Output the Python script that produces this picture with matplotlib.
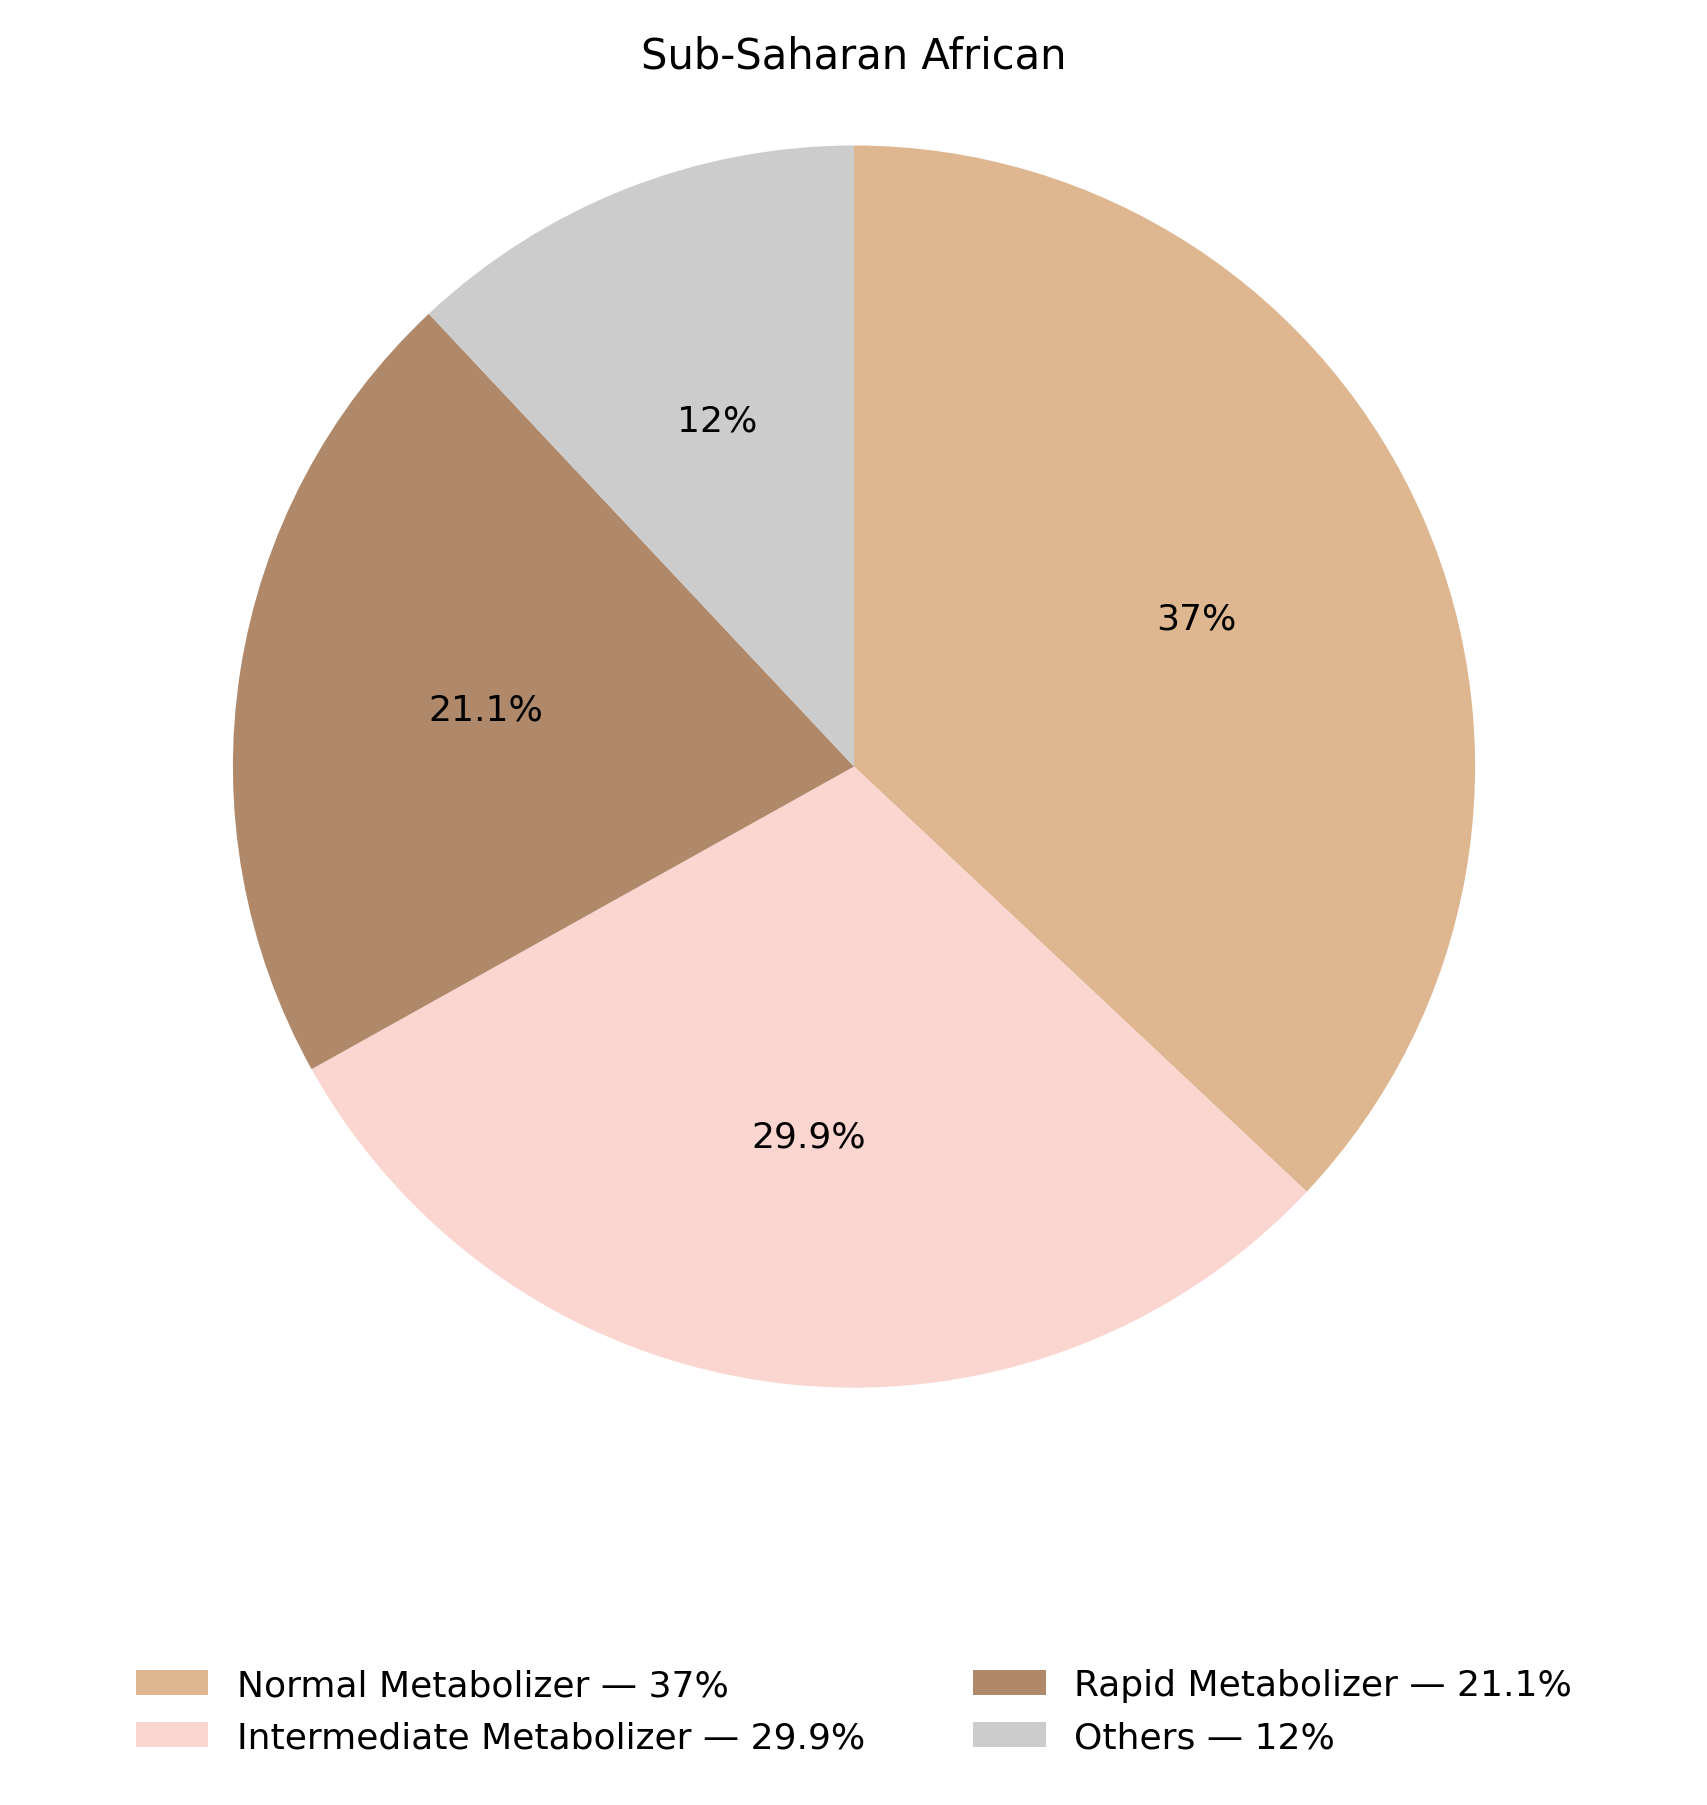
import matplotlib
matplotlib.use("Agg")
import matplotlib.pyplot as plt

labels = ["Normal Metabolizer", "Intermediate Metabolizer", "Rapid Metabolizer", "Others"]
values = [37, 29.9, 21.1, 12]
colors = ["#DEB790", "#FBD5CF", "#B0896A", "#CCCCCC"]

fig = plt.figure(figsize=(8.54, 9.03), dpi=200)
ax = fig.add_axes([0.1, 0.2, 0.8, 0.75])
wedges, texts, autotexts = ax.pie(values, colors=colors, startangle=90, counterclock=False,
                                  autopct=lambda p: f"{p:.3g}%", pctdistance=0.6,
                                  textprops={"fontsize": 13})
ax.set_title("Sub-Saharan African", fontsize=15, pad=8)
ax.axis("equal")
leg_labels = [f"{l} — {v:g}%" for l, v in zip(labels, values)]
fig.legend(wedges, leg_labels, loc="lower center", ncol=2, frameon=False, fontsize=13,
           bbox_to_anchor=(0.5, 0.01), columnspacing=3)
fig.savefig("out.png", dpi=200)
